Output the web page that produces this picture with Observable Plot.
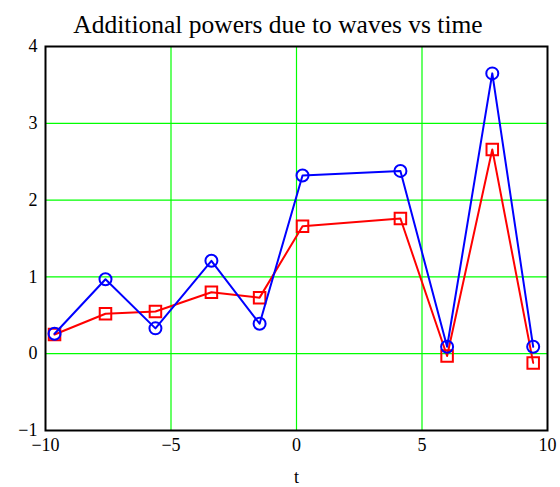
<!DOCTYPE html>
<html>
<head>
<meta charset="utf-8">
<script src="https://cdn.jsdelivr.net/npm/d3@7"></script>
<script src="https://cdn.jsdelivr.net/npm/@observablehq/plot@0.6"></script>
<style>
  html, body { margin: 0; padding: 0; background: #fff; }
  #title { font-family: "Liberation Serif", "Times New Roman", serif; font-size: 25.5px; color: #000;
           text-align: center; width: 556px; height: 36px; line-height: 25px; padding-top: 12px; box-sizing: border-box; white-space: nowrap; }
  svg { display: block; }
</style>
</head>
<body>
<div id="title">Additional powers due to waves vs time</div>
<div id="chart"></div>
<script>
const tValues = [-9.64, -7.61, -5.62, -3.39, -1.47, 0.24, 4.14, 6.0, 7.8, 9.43];
const bluePower = [0.26, 0.97, 0.33, 1.21, 0.39, 2.32, 2.38, 0.09, 3.65, 0.09];
const redPower = [0.25, 0.52, 0.55, 0.80, 0.73, 1.66, 1.76, -0.03, 2.66, -0.12];
const xTicks = [-10, -5, 0, 5, 10];
const yTicks = [-1, 0, 1, 2, 3, 4];
const xGrid = [-5, 0, 5];
const yGrid = [0, 1, 2, 3];

const blueData = tValues.map((t, i) => ({t, v: bluePower[i]}));
const redData = tValues.map((t, i) => ({t, v: redPower[i]}));
const fmt = d => String(d).replace("-", "\u2212");

const chart = Plot.plot({
  width: 560,
  height: 451,
  marginLeft: 45,
  marginRight: 13,
  marginTop: 10,
  marginBottom: 57,
  style: {fontFamily: "'Liberation Serif', 'Times New Roman', serif", fontSize: "18px", color: "#000", background: "#fff"},
  x: {domain: [-10, 10], ticks: xTicks, tickFormat: fmt, tickSize: 0, tickPadding: 8, label: "t", labelAnchor: "center", labelArrow: "none", labelOffset: 52},
  y: {domain: [-1, 4], ticks: yTicks, tickFormat: fmt, tickSize: 0, tickPadding: 8, label: null},
  marks: [
    Plot.gridX(xGrid, {stroke: "#00ff00", strokeOpacity: 1, strokeWidth: 1.2}),
    Plot.gridY(yGrid, {stroke: "#00ff00", strokeOpacity: 1, strokeWidth: 1.2}),
    Plot.line(redData, {x: "t", y: "v", stroke: "#ff0000", strokeWidth: 2}),
    Plot.dot(redData, {x: "t", y: "v", stroke: "#ff0000", strokeWidth: 2, symbol: "square", r: 6.5, fill: "none"}),
    Plot.line(blueData, {x: "t", y: "v", stroke: "#0000ff", strokeWidth: 2}),
    Plot.dot(blueData, {x: "t", y: "v", stroke: "#0000ff", strokeWidth: 2, symbol: "circle", r: 6, fill: "none"}),
    Plot.frame({stroke: "#000", strokeWidth: 2})
  ]
});
document.getElementById("chart").appendChild(chart);
</script>
</body>
</html>
